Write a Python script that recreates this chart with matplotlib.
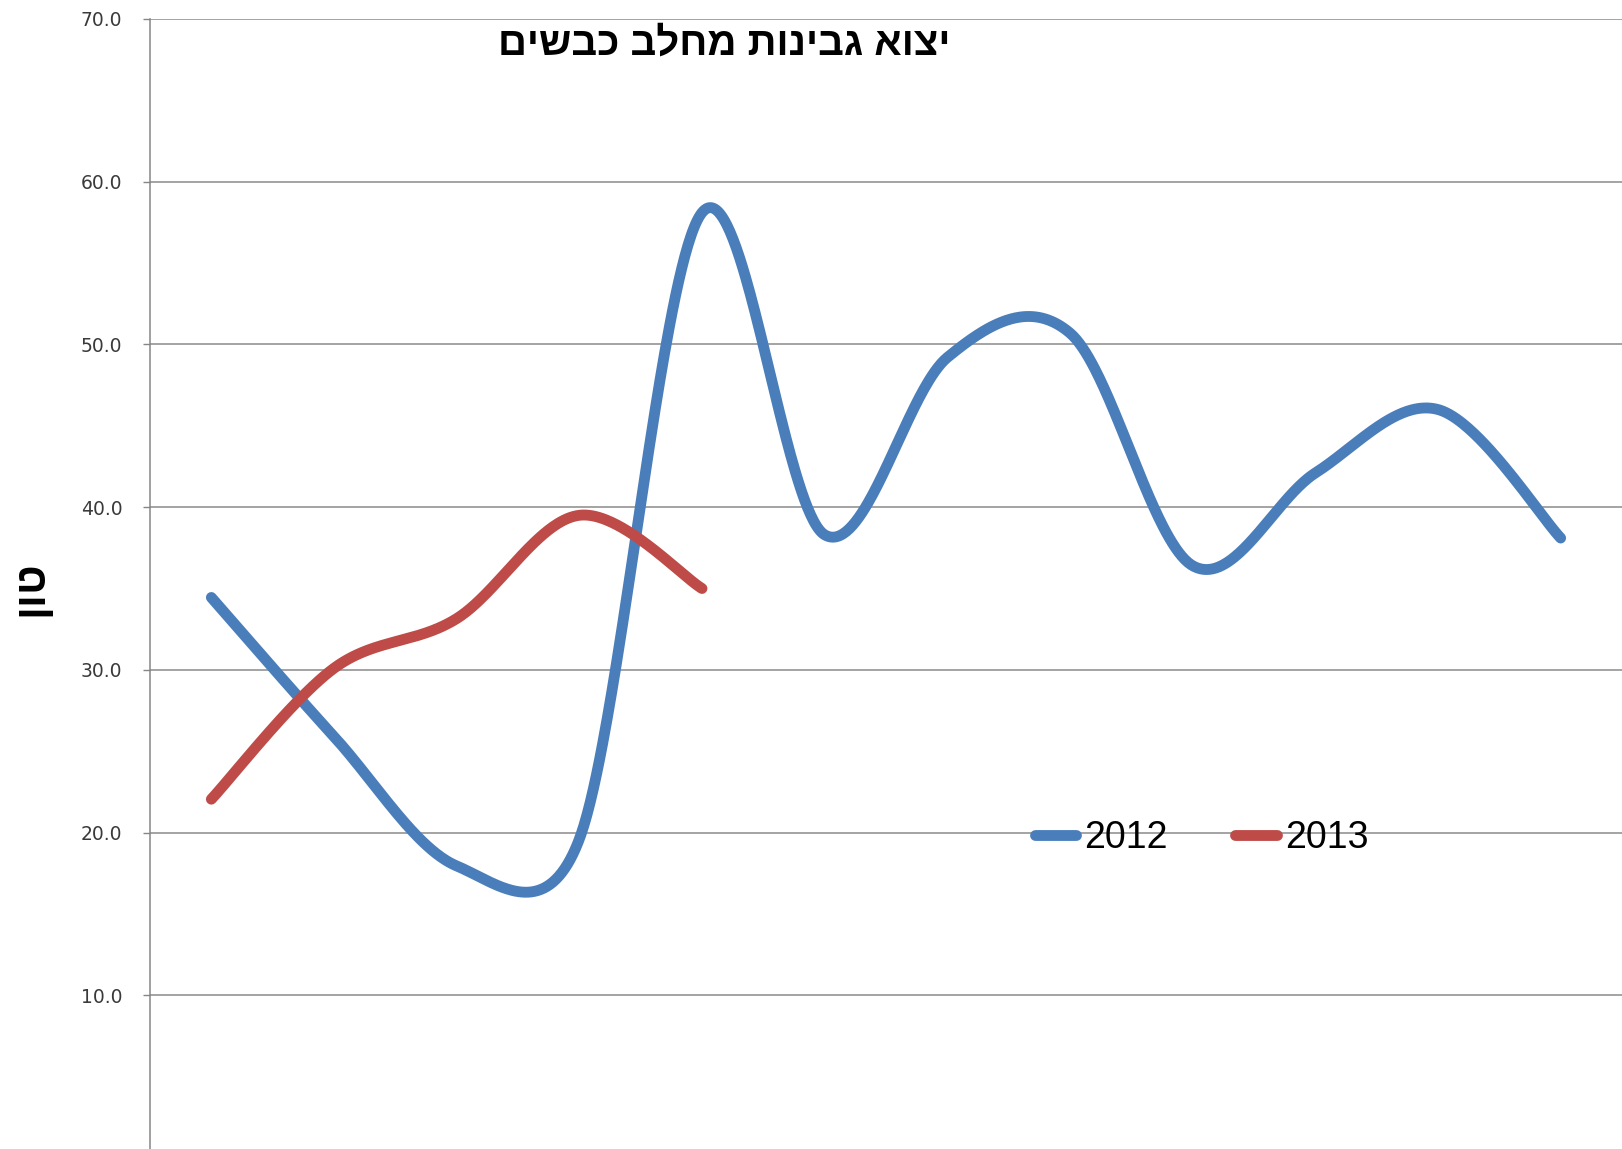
import numpy as np
import matplotlib
matplotlib.use("Agg")
import matplotlib.pyplot as plt

plt.rcParams['font.family'] = ['Liberation Sans', 'DejaVu Sans']

# data (tons per month)
months = list(range(12))
export_2012 = [34.45, 25.9, 17.95, 19.6, 58.1, 38.3, 49.2, 50.7, 36.4, 42.1, 46.0, 38.1]
export_2013 = [22.05, 30.1, 33.15, 39.5, 35.0]
series_labels = ['2012', '2013']
title_text = 'יצוא גבינות מחלב כבשים'
ylabel_text = 'טון'
yticks = [10, 20, 30, 40, 50, 60, 70]

W, H = 1622, 1149
fig = plt.figure(figsize=(W / 100, H / 100), dpi=100)
ax = fig.add_axes([150 / W, (H - 1158) / H, 1 - 150 / W, 1139 / H])
ax.set_xlim(-0.5, 11.5)
ax.set_ylim(0, 70)

# pixel scale, used so the smoothing behaves like the spreadsheet one
sx = 1472 / 12
sy = 1139 / 70


def smooth_line(xs, ys, n=80):
    # bezier smoothing of a line through the points (catmull-rom style,
    # control arms capped relative to the segment length)
    P = np.column_stack([np.asarray(xs, float) * sx, np.asarray(ys, float) * sy])
    k = len(P)
    parts = []
    t = np.linspace(0, 1, n)[:, None]
    for i in range(k - 1):
        p0 = P[i - 1] if i > 0 else P[i]
        p1, p2 = P[i], P[i + 1]
        p3 = P[i + 2] if i + 2 < k else P[i + 1]
        d12 = np.linalg.norm(p2 - p1)
        a1 = (p2 - p0) / 6
        a2 = (p3 - p1) / 6
        for a in (a1, a2):
            la = np.linalg.norm(a)
            if la > 0.75 * d12:
                a *= (0.75 * d12) / la
        c1 = p1 + a1
        c2 = p2 - a2
        seg = ((1 - t) ** 3) * p1 + 3 * ((1 - t) ** 2) * t * c1 + 3 * (1 - t) * t ** 2 * c2 + t ** 3 * p2
        parts.append(seg if i == 0 else seg[1:])
    pts = np.vstack(parts)
    return pts[:, 0] / sx, pts[:, 1] / sy


blue = '#4A7EBB'
red = '#BE4B48'

x12, y12 = smooth_line(months, export_2012)
x13, y13 = smooth_line(months[:len(export_2013)], export_2013)
ax.plot(x12, y12, color=blue, lw=7.8, solid_capstyle='round', label=series_labels[0])
ax.plot(x13, y13, color=red, lw=7.8, solid_capstyle='round', label=series_labels[1])

ax.set_yticks(yticks)
ax.set_yticklabels([f'{v:.1f}' for v in yticks], family='DejaVu Sans', fontsize=13.5, color='#3a3a3a')
ax.set_xticks([])
ax.tick_params(axis='y', length=5, width=1, color='#868686', pad=15)
ax.grid(axis='y', color='#8a8a8a', lw=1.1)
ax.set_axisbelow(True)
for s in ['top', 'right', 'bottom']:
    ax.spines[s].set_visible(False)
ax.spines['left'].set_color('#868686')
ax.spines['left'].set_linewidth(1.1)

fig.text(724 / W, 1 - 44 / H, title_text[::-1], ha='center', va='center',
         fontsize=29, fontweight='bold')
fig.text(31 / W, 1 - 588 / H, ylabel_text[::-1], ha='center', va='center',
         rotation=90, fontsize=31, fontweight='bold')

ax.legend(loc='center left', bbox_to_anchor=(1034.5 / W, 1 - 838 / H),
          bbox_transform=fig.transFigure, frameon=False, ncol=2,
          fontsize=27, handlelength=1.1, handletextpad=0.23, columnspacing=1.8,
          borderpad=0, borderaxespad=0)

fig.savefig('out.png', dpi=100)
